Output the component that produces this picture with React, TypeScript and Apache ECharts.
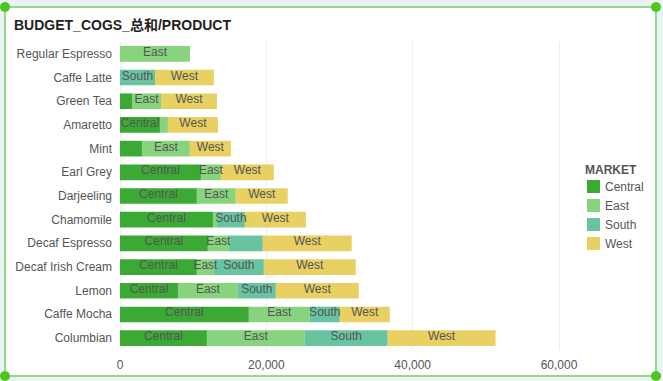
import React, { useEffect, useRef } from "react";
import * as echarts from "echarts";

const categories = [
  "Regular Espresso",
  "Caffe Latte",
  "Green Tea",
  "Amaretto",
  "Mint",
  "Earl Grey",
  "Darjeeling",
  "Chamomile",
  "Decaf Espresso",
  "Decaf Irish Cream",
  "Lemon",
  "Caffe Mocha",
  "Columbian",
];

const central = [0, 0, 1640, 5460, 3000, 11060, 10510, 12700, 12010, 10510, 7920, 17610, 11880];
const east = [9560, 0, 3960, 1090, 6550, 2730, 5320, 550, 2870, 2320, 8190, 8330, 13380];
const south = [0, 4780, 0, 0, 0, 0, 0, 3820, 4640, 6830, 5190, 4100, 11330];
const west = [0, 8050, 7650, 6830, 5600, 7230, 7100, 8330, 12150, 12560, 11330, 6830, 14740];

const seriesNames = ["Central", "East", "South", "West"];
const seriesColors = ["#3aaa35", "#88d37e", "#68c3a0", "#e8d062"];
const xTicks = { min: 0, max: 60000, interval: 20000 };

const FONT = "'Liberation Sans', Arial, 'Noto Sans CJK SC', sans-serif";

// decide which in-bar labels are visible (too narrow or overlapping the previous label → hidden)
function labelVisibility(values: number[][], plotWidth: number): boolean[][] {
  const vis = values.map((arr) => arr.map(() => false));
  const tw = seriesNames.map((n) => n.length * 6.2);
  for (let r = 0; r < categories.length; r++) {
    let acc = 0;
    let prevRight = -Infinity;
    for (let s = 0; s < values.length; s++) {
      const v = values[s][r];
      const x0 = (acc / xTicks.max) * plotWidth;
      acc += v;
      const x1 = (acc / xTicks.max) * plotWidth;
      if (v <= 0) continue;
      const w = x1 - x0;
      const c = (x0 + x1) / 2;
      if (w < tw[s] * 0.6) continue;
      const left = c - tw[s] / 2;
      if (left < prevRight + 3) continue;
      vis[s][r] = true;
      prevRight = c + tw[s] / 2;
    }
  }
  return vis;
}

export default function App() {
  const ref = useRef<HTMLDivElement>(null);
  useEffect(() => {
    if (!ref.current) return;
    const chart = echarts.init(ref.current, null, { renderer: "svg" });
    const plotWidth = 439;
    const values = [central, east, south, west];
    const vis = labelVisibility(values, plotWidth);
    const series = seriesNames.map((name, i) => ({
      name,
      type: "bar",
      stack: "total",
      barWidth: "66%",
      itemStyle: { color: seriesColors[i] },
      label: {
        show: true,
        position: "inside",
        color: "#555",
        fontSize: 12,
        fontFamily: FONT,
        offset: [0, -2],
        formatter: (p: any) => (vis[i][p.dataIndex] ? name : ""),
      },
      data: values[i].map((v) => (v === 0 ? null : v)),
    }));
    chart.setOption({
      animation: false,
      textStyle: { fontFamily: FONT },
      title: {
        text: "BUDGET_COGS_总和/PRODUCT",
        left: 9,
        top: 13,
        textStyle: { fontSize: 14, fontWeight: "bold", color: "#222", fontFamily: FONT },
      },
      graphic: [
        {
          type: "rect",
          z: -10,
          shape: { x: 5, y: 7, width: 651, height: 369 },
          style: { fill: "#fff", stroke: "#92db84", lineWidth: 2 },
        },
        ...[
          [5, 7],
          [656, 7],
          [5, 376],
          [656, 376],
        ].map(([cx, cy]) => ({
          type: "circle",
          z: 100,
          shape: { cx, cy, r: 5 },
          style: { fill: "#4cc71f" },
        })),
        {
          type: "text",
          left: 585,
          top: 164,
          style: { text: "MARKET", fontSize: 12, fontWeight: "bold", fill: "#555", fontFamily: FONT },
        },
      ],
      legend: {
        orient: "vertical",
        left: 582,
        top: 175,
        itemWidth: 13,
        itemHeight: 13,
        itemGap: 6,
        icon: "rect",
        textStyle: { color: "#555", fontSize: 12, fontFamily: FONT },
        data: seriesNames,
      },
      grid: { left: 120, right: 104, top: 42, bottom: 31, containLabel: false },
      xAxis: {
        type: "value",
        min: xTicks.min,
        max: xTicks.max,
        interval: xTicks.interval,
        axisLine: { show: false },
        axisTick: { show: false },
        axisLabel: { color: "#555", fontSize: 12, margin: 9, fontFamily: FONT },
        splitLine: { lineStyle: { color: "#eee" } },
      },
      yAxis: {
        type: "category",
        inverse: true,
        data: categories,
        axisLine: { show: false },
        axisTick: { show: false },
        axisLabel: { color: "#555", fontSize: 12, margin: 8, fontFamily: FONT },
      },
      series,
    });
    return () => chart.dispose();
  }, []);
  return (
    <div style={{ position: "absolute", left: 0, top: 0, width: 663, height: 381, background: "#eaf2f5" }}>
      <div ref={ref} style={{ width: 663, height: 381 }} />
    </div>
  );
}
